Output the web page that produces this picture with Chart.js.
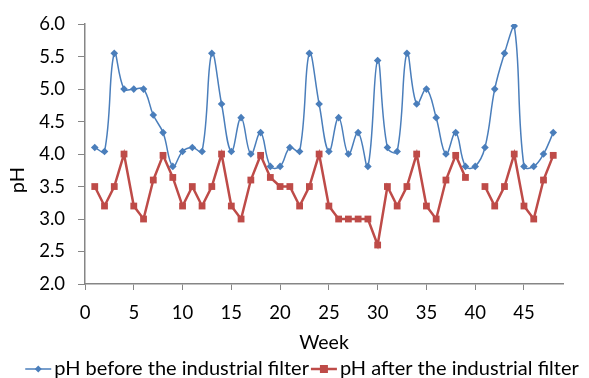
<!DOCTYPE html>
<html>
<head>
<meta charset="utf-8">
<script src="https://cdn.jsdelivr.net/npm/chart.js@4.4.1/dist/chart.umd.min.js"></script>
<style>
  html, body { margin: 0; padding: 0; background: #fff; }
  #wrap { width: 589px; height: 378px; }
</style>
</head>
<body>
<div id="wrap"><canvas id="ph"></canvas></div>
<script>
// weekly pH readings
const weeks = [1,2,3,4,5,6,7,8,9,10,11,12,13,14,15,16,17,18,19,20,21,22,23,24,
  25,26,27,28,29,30,31,32,33,34,35,36,37,38,39,40,41,42,43,44,45,46,47,48];
const phBefore = [4.10,4.04,5.55,5.00,5.00,5.00,4.60,4.33,3.81,4.04,4.10,4.04,5.55,4.77,4.04,4.56,
  4.00,4.33,3.81,3.81,4.10,4.04,5.55,4.77,4.04,4.56,4.00,4.33,3.81,5.44,4.10,4.04,
  5.55,4.77,5.00,4.56,4.00,4.33,3.81,3.81,4.10,5.00,5.55,5.97,3.81,3.81,4.00,4.33];
const phAfter = [3.50,3.20,3.50,4.00,3.20,3.00,3.60,3.98,3.64,3.20,3.50,3.20,3.50,4.00,3.20,3.00,
  3.60,3.98,3.64,3.50,3.50,3.20,3.50,4.00,3.20,3.00,3.00,3.00,3.00,2.60,3.50,3.20,
  3.50,4.00,3.20,3.00,3.60,3.98,3.64,null,3.50,3.20,3.50,4.00,3.20,3.00,3.60,3.98];
const xTicks = [0,5,10,15,20,25,30,35,40,45];
const yTicks = [2.0,2.5,3.0,3.5,4.0,4.5,5.0,5.5,6.0];
const seriesNames = ['pH before the industrial filter', 'pH after the industrial filter'];
const yTitle = 'pH';

const blue = '#4a7ebb';
const red = '#be4b48';
const axisGrey = '#868686';
const font = 'Lato';

const toPoints = vals => weeks.map((w, i) => ({ x: w, y: vals[i] }));

// Excel-style legend (line + marker) in one row, plus the y title sitting a bit low
const extrasPlugin = {
  id: 'extras',
  afterDraw(chart) {
    const ctx = chart.ctx;
    ctx.save();
    ctx.setTransform(1, 0, 0, 1, 0, 0);
    ctx.font = '20px ' + font;
    ctx.fillStyle = '#000';

    // y axis title, centred near the 3.5 tick like the original
    const ty = chart.scales.y.getPixelForValue(3.6);
    ctx.save();
    ctx.translate(18, ty);
    ctx.rotate(-Math.PI / 2);
    ctx.textAlign = 'center';
    ctx.textBaseline = 'middle';
    ctx.fillText(yTitle, 0, 0);
    ctx.restore();

    ctx.textBaseline = 'middle';
    const iconW = 26, gapIcon = 3, gapItem = 2;
    const items = chart.data.datasets.map(ds => ({ ds, w: ctx.measureText(ds.label).width }));
    const total = items.reduce((s, it) => s + iconW + gapIcon + it.w, 0) + gapItem;
    let x = 302 - total / 2;
    const y = 369;
    items.forEach(({ ds, w }) => {
      const square = ds.pointStyle === 'rect';
      ctx.strokeStyle = ds.borderColor;
      ctx.fillStyle = ds.borderColor;
      ctx.lineWidth = square ? 2.5 : 1.5;
      ctx.beginPath(); ctx.moveTo(x, y); ctx.lineTo(x + iconW, y); ctx.stroke();
      const cx = x + iconW / 2;
      if (square) {
        ctx.fillRect(cx - 4, y - 4, 8, 8);
      } else {
        ctx.beginPath();
        ctx.moveTo(cx, y - 3.5); ctx.lineTo(cx + 3.5, y); ctx.lineTo(cx, y + 3.5); ctx.lineTo(cx - 3.5, y);
        ctx.closePath(); ctx.fill();
      }
      x += iconW + gapIcon;
      ctx.fillStyle = '#000';
      ctx.textAlign = 'left';
      ctx.fillText(ds.label, x, y);
      x += w + gapItem;
    });
    ctx.restore();
  }
};

const chart = new Chart(document.getElementById('ph'), {
  type: 'line',
  data: {
    datasets: [
      {
        label: seriesNames[0],
        data: toPoints(phBefore),
        borderColor: blue,
        backgroundColor: blue,
        borderWidth: 1.5,
        tension: 0.4,
        pointStyle: 'rectRot',
        pointRadius: 3.8,
        pointBorderWidth: 0
      },
      {
        label: seriesNames[1],
        data: toPoints(phAfter),
        borderColor: red,
        backgroundColor: red,
        borderWidth: 2.5,
        tension: 0,
        spanGaps: false,
        pointStyle: 'rect',
        pointRadius: 4.8,
        pointBorderWidth: 0
      }
    ]
  },
  options: {
    responsive: true,
    maintainAspectRatio: false,
    animation: false,
    layout: { padding: { left: 4, right: 26, top: 19, bottom: 21 } },
    plugins: {
      tooltip: { enabled: false },
      legend: { display: false }
    },
    scales: {
      x: {
        type: 'linear',
        min: 0,
        max: 49,
        afterBuildTicks: s => { s.ticks = xTicks.map(v => ({ value: v })); },
        afterFit: s => { s.height = 73; },
        grid: { display: true, drawOnChartArea: false, tickLength: 6, color: axisGrey },
        border: { color: axisGrey, width: 1.5 },
        ticks: { color: '#000', font: { family: font, size: 18.5 }, padding: 12, maxRotation: 0 },
        title: { display: true, text: 'Week', color: '#000', font: { family: font, size: 19.5 }, padding: { top: 0, bottom: 3 } }
      },
      y: {
        min: 2,
        max: 6,
        afterBuildTicks: s => { s.ticks = yTicks.map(v => ({ value: v })); },
        afterFit: s => { s.width = 81; },
        grid: { display: true, drawOnChartArea: false, tickLength: 7, color: axisGrey },
        border: { color: axisGrey, width: 1.5 },
        ticks: { color: '#000', font: { family: font, size: 18.5 }, padding: 13, callback: v => v.toFixed(1) },
        title: { display: false }
      }
    }
  },
  plugins: [extrasPlugin]
});
</script>
</body>
</html>
